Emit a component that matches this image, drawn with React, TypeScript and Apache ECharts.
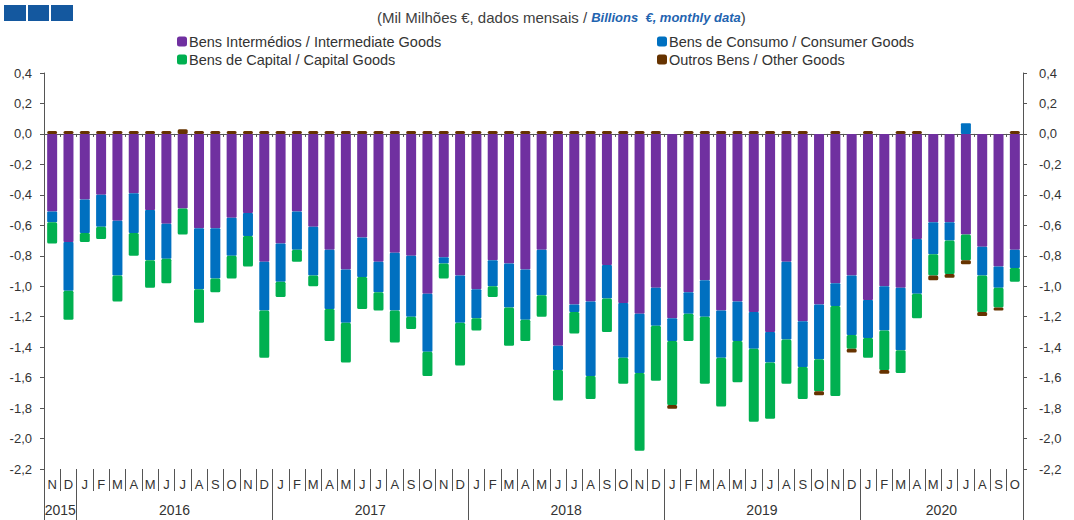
import React, { useEffect, useRef } from 'react';
import * as echarts from 'echarts';

const monthLabels = [
  'N', 'D',
  'J', 'F', 'M', 'A', 'M', 'J', 'J', 'A', 'S', 'O', 'N', 'D',
  'J', 'F', 'M', 'A', 'M', 'J', 'J', 'A', 'S', 'O', 'N', 'D',
  'J', 'F', 'M', 'A', 'M', 'J', 'J', 'A', 'S', 'O', 'N', 'D',
  'J', 'F', 'M', 'A', 'M', 'J', 'J', 'A', 'S', 'O', 'N', 'D',
  'J', 'F', 'M', 'A', 'M', 'J', 'J', 'A', 'S', 'O',
];
const years = ['2015', '2016', '2017', '2018', '2019', '2020'];
const monthsPerYear = [2, 12, 12, 12, 12, 10];

const yTicks = { min: -2.2, max: 0.4, step: 0.2 };

const intermediate = [
  -0.51, -0.71, -0.43, -0.40, -0.57, -0.39, -0.50, -0.59, -0.49, -0.62, -0.62, -0.55, -0.52, -0.84,
  -0.72, -0.51, -0.61, -0.76, -0.89, -0.68, -0.84, -0.78, -0.80, -1.05, -0.81, -0.93,
  -1.02, -0.83, -0.85, -0.89, -0.76, -1.39, -1.12, -1.10, -0.86, -1.11, -1.18, -1.01,
  -1.21, -1.04, -0.96, -1.16, -1.10, -1.17, -1.30, -0.84, -1.23, -1.12, -0.98, -0.93,
  -1.09, -1.00, -1.01, -0.69, -0.58, -0.58, -0.66, -0.74, -0.87, -0.76,
];
const consumer = [
  -0.07, -0.32, -0.22, -0.21, -0.36, -0.26, -0.33, -0.23, 0, -0.40, -0.33, -0.25, -0.15, -0.32,
  -0.25, -0.25, -0.32, -0.39, -0.35, -0.26, -0.20, -0.38, -0.40, -0.38, -0.04, -0.31,
  -0.19, -0.17, -0.29, -0.33, -0.30, -0.16, -0.05, -0.49, -0.22, -0.36, -0.39, -0.25,
  -0.15, -0.14, -0.24, -0.31, -0.26, -0.24, -0.20, -0.51, -0.30, -0.36, -0.15, -0.39,
  -0.25, -0.29, -0.41, -0.36, -0.21, -0.12, 0.07, -0.19, -0.14, -0.12,
];
const capital = [
  -0.14, -0.19, -0.06, -0.08, -0.17, -0.15, -0.18, -0.16, -0.17, -0.22, -0.09, -0.15, -0.20, -0.31,
  -0.10, -0.08, -0.07, -0.21, -0.26, -0.21, -0.12, -0.21, -0.08, -0.16, -0.10, -0.28,
  -0.08, -0.07, -0.25, -0.14, -0.14, -0.20, -0.14, -0.15, -0.22, -0.17, -0.51, -0.36,
  -0.42, -0.18, -0.44, -0.32, -0.27, -0.48, -0.37, -0.29, -0.21, -0.21, -0.59, -0.09,
  -0.13, -0.26, -0.15, -0.16, -0.14, -0.22, -0.17, -0.24, -0.13, -0.09,
];
const other = [
  0.02, 0.02, 0.02, 0.02, 0.02, 0.02, 0.02, 0.02, 0.03, 0.02, 0.02, 0.02, 0.02, 0.02,
  0.02, 0.02, 0.02, 0.02, 0.02, 0.02, 0.02, 0.02, 0.02, 0.02, 0.02, 0.02,
  0.02, 0.02, 0.02, 0.02, 0.02, 0.02, 0.02, 0.02, 0.02, 0.02, 0.02, 0.02,
  -0.025, 0.02, 0.02, 0.02, 0.02, 0.02, 0.02, 0.02, 0.02, -0.025, 0.02, -0.025,
  0.02, -0.025, 0.02, 0.02, -0.03, -0.025, -0.025, -0.025, -0.02, 0.02,
];

const names = {
  intermediate: 'Bens Intermédios / Intermediate Goods',
  consumer: 'Bens de Consumo / Consumer Goods',
  capital: 'Bens de Capital / Capital Goods',
  other: 'Outros Bens / Other Goods',
};

const colors = {
  intermediate: '#7030A0',
  consumer: '#0070C0',
  capital: '#00B050',
  other: '#663300',
};

const FONT = "'Liberation Sans', Arial, sans-serif";
const AXIS = '#555555';
const TEXT = '#333333';

export default function App() {
  const ref = useRef<HTMLDivElement>(null);

  useEffect(() => {
    if (!ref.current) return;
    const chart = echarts.init(ref.current, null, { renderer: 'svg' });

    const yearStarts: number[] = [];
    let acc = 0;
    monthsPerYear.forEach((n) => {
      yearStarts.push(acc);
      acc += n;
    });
    const yearCenters: Record<string, string> = {};
    monthsPerYear.forEach((n, k) => {
      yearCenters[String(yearStarts[k] + n / 2)] = years[k];
    });

    const fmt = (v: number) => {
      const r = Math.round(v * 10) / 10;
      return (Math.abs(r) < 1e-9 ? 0 : r).toFixed(1).replace('.', ',');
    };

    const yAxisBase = {
      type: 'value',
      min: yTicks.min,
      max: yTicks.max,
      interval: yTicks.step,
      axisLine: { show: true, onZero: false, lineStyle: { color: AXIS, width: 1 } },
      axisTick: { show: true, length: 4, lineStyle: { color: AXIS } },
      splitLine: { show: false },
    };

    const barBase = {
      type: 'bar',
      stack: 'total',
      barWidth: 10,
      xAxisIndex: 0,
      yAxisIndex: 0,
    };

    const legendBase = {
      top: 29,
      orient: 'vertical',
      icon: 'roundRect',
      itemWidth: 10,
      itemHeight: 10,
      itemGap: 3,
      itemStyle: { borderWidth: 0 },
      textStyle: { fontSize: 14.5, color: TEXT, fontFamily: FONT, padding: [0, 0, 0, -3] },
    };

    const option = {
      animation: false,
      textStyle: { fontFamily: FONT },
      title: {
        left: 372,
        top: 5,
        text: '{a|(Mil Milhões €, dados mensais / }{b|Billions  €, monthly data}{a|)}',
        textStyle: {
          fontWeight: 'normal',
          rich: {
            a: { fontSize: 15, color: '#404040', fontFamily: FONT, fontWeight: 'normal' },
            b: { fontSize: 13, color: '#1F64B0', fontWeight: 'bold', fontStyle: 'italic', fontFamily: FONT },
          },
        },
      },
      graphic: [
        { type: 'rect', left: 4, top: 5, shape: { width: 22, height: 16 }, style: { fill: '#14589F' } },
        { type: 'rect', left: 28, top: 5, shape: { width: 21, height: 16 }, style: { fill: '#14589F' } },
        { type: 'rect', left: 51, top: 5, shape: { width: 22, height: 16 }, style: { fill: '#14589F' } },
      ],
      legend: [
        { ...legendBase, left: 172, data: [names.intermediate, names.capital] },
        { ...legendBase, left: 652, data: [names.consumer, names.other] },
      ],
      grid: { left: 44, right: 51, top: 73, bottom: 51, containLabel: false, outerBoundsMode: 'none' },
      xAxis: [
        {
          type: 'category',
          data: monthLabels,
          position: 'bottom',
          axisLine: { show: true, onZero: true, lineStyle: { color: AXIS, width: 1 } },
          axisTick: { show: true, interval: 0, length: 3, lineStyle: { color: AXIS } },
          axisLabel: { show: false },
          splitLine: { show: false },
        },
        {
          type: 'category',
          data: monthLabels,
          position: 'bottom',
          axisLine: { show: false, onZero: false },
          axisTick: { show: true, interval: 0, length: 22, lineStyle: { color: AXIS } },
          axisLabel: { show: true, interval: 0, margin: 9, fontSize: 13, color: TEXT, fontFamily: FONT },
          splitLine: { show: false },
        },
        {
          type: 'category',
          data: monthLabels,
          position: 'bottom',
          axisLine: { show: false, onZero: false },
          axisTick: {
            show: true,
            interval: (i: number) => yearStarts.indexOf(i) >= 0,
            length: 51,
            lineStyle: { color: AXIS },
          },
          axisLabel: { show: false },
          splitLine: { show: false },
        },
        {
          type: 'value',
          min: 0,
          max: monthLabels.length,
          interval: 1,
          position: 'bottom',
          axisLine: { show: false, onZero: false },
          axisTick: { show: false },
          splitLine: { show: false },
          axisLabel: {
            margin: 34,
            fontSize: 14,
            color: TEXT,
            fontFamily: FONT,
            showMinLabel: true,
            showMaxLabel: true,
            formatter: (v: number) => yearCenters[String(v)] || '',
          },
        },
      ],
      yAxis: [
        {
          ...yAxisBase,
          position: 'left',
          axisLabel: { formatter: fmt, margin: 12, fontSize: 13, color: TEXT, fontFamily: FONT },
        },
        {
          ...yAxisBase,
          position: 'right',
          axisLabel: { formatter: fmt, margin: 16, fontSize: 13, color: TEXT, fontFamily: FONT },
        },
      ],
      series: [
        { ...barBase, name: names.intermediate, data: intermediate, itemStyle: { color: colors.intermediate, borderRadius: 1 } },
        { ...barBase, name: names.consumer, data: consumer, itemStyle: { color: colors.consumer, borderRadius: 1 } },
        { ...barBase, name: names.capital, data: capital, itemStyle: { color: colors.capital, borderRadius: 1.5 } },
        { ...barBase, name: names.other, data: other, itemStyle: { color: colors.other, borderRadius: 1.5 } },
      ],
    };

    chart.setOption(option as any);
    return () => chart.dispose();
  }, []);

  return (
    <div
      ref={ref}
      style={{ position: 'fixed', left: 0, top: 0, width: 1074, height: 520, background: '#ffffff' }}
    />
  );
}
